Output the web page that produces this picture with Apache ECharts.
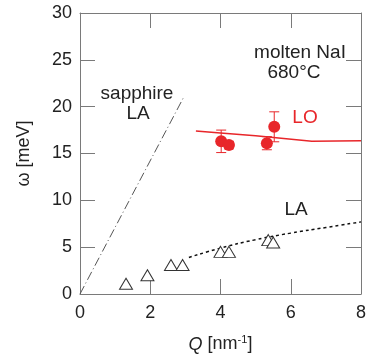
<!DOCTYPE html>
<html>
<head>
<meta charset="utf-8">
<script src="https://cdn.jsdelivr.net/npm/echarts@6/dist/echarts.min.js"></script>
<style>
  html, body { margin: 0; padding: 0; background: #fff; }
  #chart { width: 382px; height: 362px; }
</style>
</head>
<body>
<div id="chart"></div>
<script>
// LO points (red) with error bars: [Q, omega, err]
var loPoints = [[4.02, 16.3, 1.2], [4.24, 15.9, 0.4], [5.32, 16.1, 0.7], [5.53, 17.85, 1.6]];
// LO fit line
var loLine = [[3.3, 17.4], [4.0, 17.2], [5.0, 16.9], [6.6, 16.3], [8.0, 16.35]];
// LA points (open triangles)
var laPoints = [[1.31, 1.1], [1.92, 2.0], [2.59, 3.1], [2.92, 3.1], [4.0, 4.5], [4.24, 4.5], [5.36, 5.75], [5.5, 5.5]];
// LA dashed curve
var laLine = [[3.1, 3.9], [4.0, 4.9], [5.0, 5.8], [6.0, 6.5], [7.0, 7.1], [8.0, 7.7]];
// sapphire LA line
var sapphireLine = [[0, 0], [2.95, 21]];

var axisColor = '#7a7a7a';
var textColor = '#222';
var font = 'Liberation Sans, Arial, sans-serif';

var chart = echarts.init(document.getElementById('chart'));

function errorBars(params, api) {
    var x = api.value(0), y = api.value(1), e = api.value(2);
    var top = api.coord([x, y + e]);
    var bot = api.coord([x, y - e]);
    var w = 5;
    var style = { stroke: '#e8262a', lineWidth: 1 };
    return {
        type: 'group',
        children: [
            { type: 'line', shape: { x1: top[0], y1: top[1], x2: bot[0], y2: bot[1] }, style: style },
            { type: 'line', shape: { x1: top[0] - w, y1: top[1], x2: top[0] + w, y2: top[1] }, style: style },
            { type: 'line', shape: { x1: bot[0] - w, y1: bot[1], x2: bot[0] + w, y2: bot[1] }, style: style }
        ]
    };
}

function label(text, x, y, size, color) {
    return {
        type: 'text', x: x, y: y,
        style: { text: text, fontSize: size, fill: color || textColor, fontFamily: font, align: 'center', verticalAlign: 'middle' }
    };
}

var tick = { show: true, inside: true, length: 15, lineStyle: { color: axisColor, width: 1 } };
var line = { show: true, onZero: false, lineStyle: { color: axisColor, width: 1 } };

var option = {
    animation: false,
    grid: { left: 80, right: 21, top: 13, bottom: 68 },
    textStyle: { fontFamily: font },
    xAxis: [{
        type: 'value', min: 0, max: 8, interval: 2, position: 'bottom',
        axisLine: line,
        axisTick: tick,
        axisLabel: { color: textColor, fontSize: 18, margin: 10 },
        splitLine: { show: false },
        name: '{i|Q} [nm{s|-1}]',
        nameLocation: 'middle', nameGap: 40,
        nameTextStyle: {
            color: textColor, fontSize: 18,
            rich: {
                i: { fontStyle: 'italic', fontSize: 18, color: textColor },
                s: { fontSize: 11, color: textColor, padding: [0, 0, 10, 0] }
            }
        }
    }, {
        type: 'value', min: 0, max: 8, interval: 2, position: 'top',
        axisLine: line,
        axisTick: tick,
        axisLabel: { show: false },
        splitLine: { show: false }
    }],
    yAxis: [{
        type: 'value', min: 0, max: 30, interval: 5, position: 'left',
        axisLine: line,
        axisTick: tick,
        axisLabel: { color: textColor, fontSize: 18, margin: 8 },
        splitLine: { show: false },
        name: 'ω [meV]',
        nameLocation: 'middle', nameGap: 47, nameRotate: 90,
        nameTextStyle: { color: textColor, fontSize: 18 }
    }, {
        type: 'value', min: 0, max: 30, interval: 5, position: 'right',
        axisLine: line,
        axisTick: tick,
        axisLabel: { show: false },
        splitLine: { show: false }
    }],
    series: [{
        type: 'line', data: sapphireLine, symbol: 'none',
        lineStyle: { color: '#555', width: 1, type: [9, 3, 1, 3] }
    }, {
        type: 'line', data: laLine, symbol: 'none', smooth: true,
        lineStyle: { color: '#111', width: 1.5, type: [3, 3] }
    }, {
        type: 'line', data: loLine, symbol: 'none',
        lineStyle: { color: '#e8262a', width: 1.5 }
    }, {
        type: 'custom', data: loPoints, renderItem: errorBars, z: 3
    }, {
        type: 'scatter', data: loPoints, symbol: 'circle', symbolSize: 12,
        itemStyle: { color: '#e8262a', opacity: 1 }, z: 4
    }, {
        type: 'scatter', data: laPoints, symbol: 'triangle', symbolSize: [13, 11],
        itemStyle: { color: '#fff', borderColor: '#333', borderWidth: 1, opacity: 1 }, z: 4
    }],
    graphic: [
        label('sapphire', 137, 94, 19),
        label('LA', 138, 114, 19),
        label('molten NaI', 300, 53, 19),
        label('680°C', 294, 73, 19),
        label('LO', 305, 118, 19, '#e8262a'),
        label('LA', 296, 210, 19)
    ]
};

chart.setOption(option);
</script>
</body>
</html>
